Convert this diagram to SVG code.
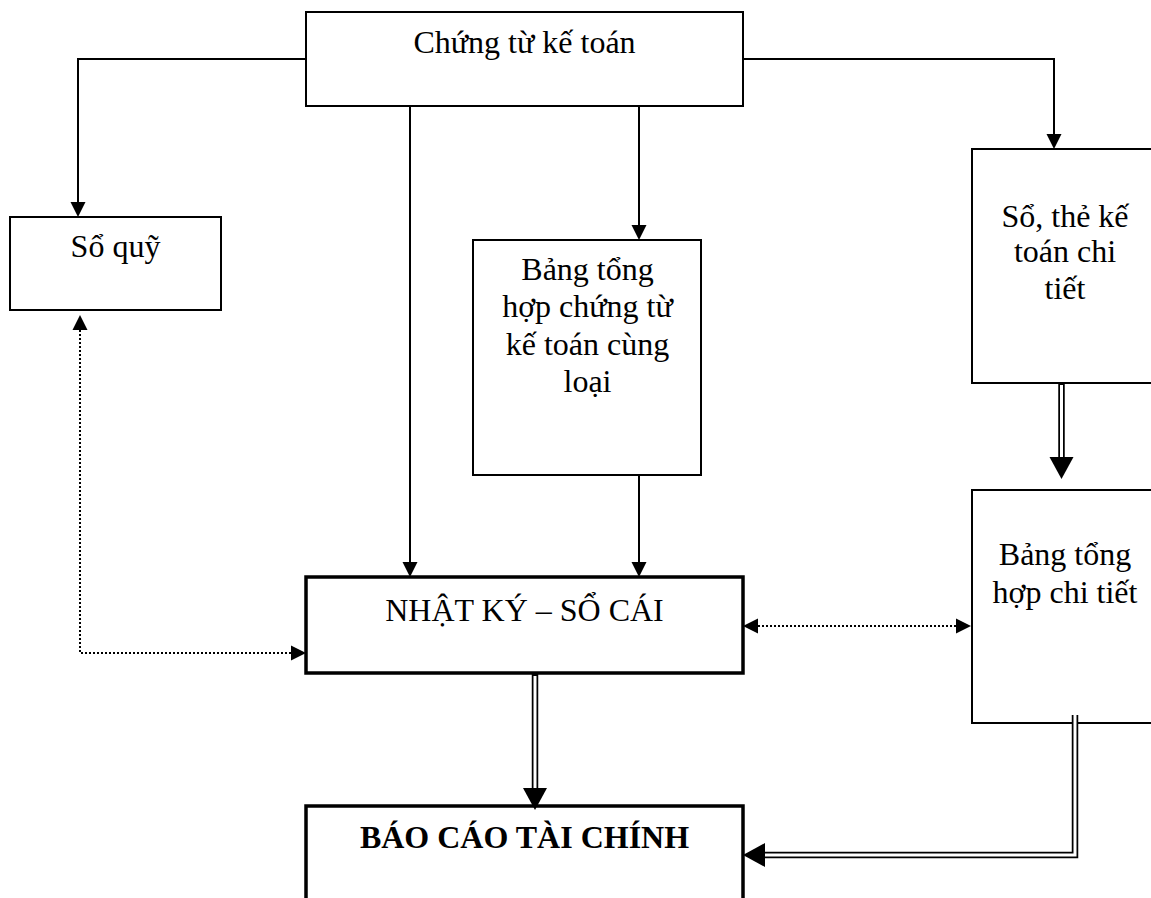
<svg xmlns="http://www.w3.org/2000/svg" width="1151" height="898" viewBox="0 0 1151 898">
<style>
.box{fill:#fff;stroke:#000;stroke-width:2}
.thick{fill:#fff;stroke:#000;stroke-width:3.5}
.t{font-family:"Liberation Serif","Times New Roman",serif;font-size:32px;fill:#000;text-anchor:middle}
.b{font-weight:bold}
.ln{fill:none;stroke:#000;stroke-width:2}
.dot{fill:none;stroke:#000;stroke-width:2;stroke-dasharray:2 2}
.dblo{fill:none;stroke:#000;stroke-width:6.5;stroke-linejoin:miter}
.dbli{fill:none;stroke:#fff;stroke-width:3;stroke-linejoin:miter}
</style>
<defs>
<marker id="aS" markerUnits="userSpaceOnUse" markerWidth="16" markerHeight="16" viewBox="0 0 16 16" refX="0" refY="8" orient="auto-start-reverse">
<path d="M0,0.5 L15,8 L0,15.5 z" fill="#000"/>
</marker>
<marker id="aD" markerUnits="userSpaceOnUse" markerWidth="24" markerHeight="26" viewBox="0 0 24 26" refX="0" refY="13" orient="auto">
<path d="M0,1 L22,13 L0,25 z" fill="#000"/>
</marker>
</defs>

<g id="n-chungtu">
<rect class="box" x="306" y="12" width="437" height="94"/>
<text class="t" x="524.5" y="53">Chứng từ kế toán</text>
</g>

<g id="n-soquy">
<rect class="box" x="10" y="217" width="211" height="93"/>
<text class="t" x="115.5" y="257">Sổ quỹ</text>
</g>

<g id="n-bangthcungloai">
<rect class="box" x="473" y="240" width="228" height="235"/>
<text class="t"><tspan x="587.5" y="280">Bảng tổng</tspan><tspan x="587.5" y="317">hợp chứng từ</tspan><tspan x="587.5" y="355">kế toán cùng</tspan><tspan x="587.5" y="392">loại</tspan></text>
</g>

<g id="n-sothe">
<rect class="box" x="972" y="149" width="188" height="234"/>
<text class="t"><tspan x="1065" y="227">Sổ, thẻ kế</tspan><tspan x="1065" y="262">toán chi</tspan><tspan x="1065" y="299">tiết</tspan></text>
</g>

<g id="n-bangthct">
<rect class="box" x="972" y="490" width="188" height="233"/>
<text class="t"><tspan x="1065" y="565">Bảng tổng</tspan><tspan x="1065" y="603">hợp chi tiết</tspan></text>
</g>

<g id="n-nhatky">
<rect class="thick" x="306" y="577" width="437" height="96"/>
<text class="t" x="524.5" y="621">NHẬT KÝ – SỔ CÁI</text>
</g>

<g id="n-baocao">
<rect class="thick" x="306" y="806" width="437" height="120"/>
<text class="t b" x="524.5" y="848">BÁO CÁO TÀI CHÍNH</text>
</g>

<g id="connectors">
<path class="ln" d="M306,59 H78 V202" marker-end="url(#aS)"/>
<path class="ln" d="M743,59 H1054 V134" marker-end="url(#aS)"/>
<path class="ln" d="M410,106 V562" marker-end="url(#aS)"/>
<path class="ln" d="M639,106 V225" marker-end="url(#aS)"/>
<path class="ln" d="M639,475 V562" marker-end="url(#aS)"/>
<path class="dot" d="M80,330 V653 H291" marker-start="url(#aS)" marker-end="url(#aS)"/>
<path class="dot" d="M758,626 H956" marker-start="url(#aS)" marker-end="url(#aS)"/>
<path class="dblo" d="M1061.5,383 V457" marker-end="url(#aD)"/>
<path class="dbli" d="M1061.5,385 V457"/>
<path class="dblo" d="M535,673 V788" marker-end="url(#aD)"/>
<path class="dbli" d="M535,676 V788"/>
<path class="dblo" d="M1075,715 V855 H765" marker-end="url(#aD)"/>
<path class="dbli" d="M1075,715 V855 H765"/>
</g>
</svg>
